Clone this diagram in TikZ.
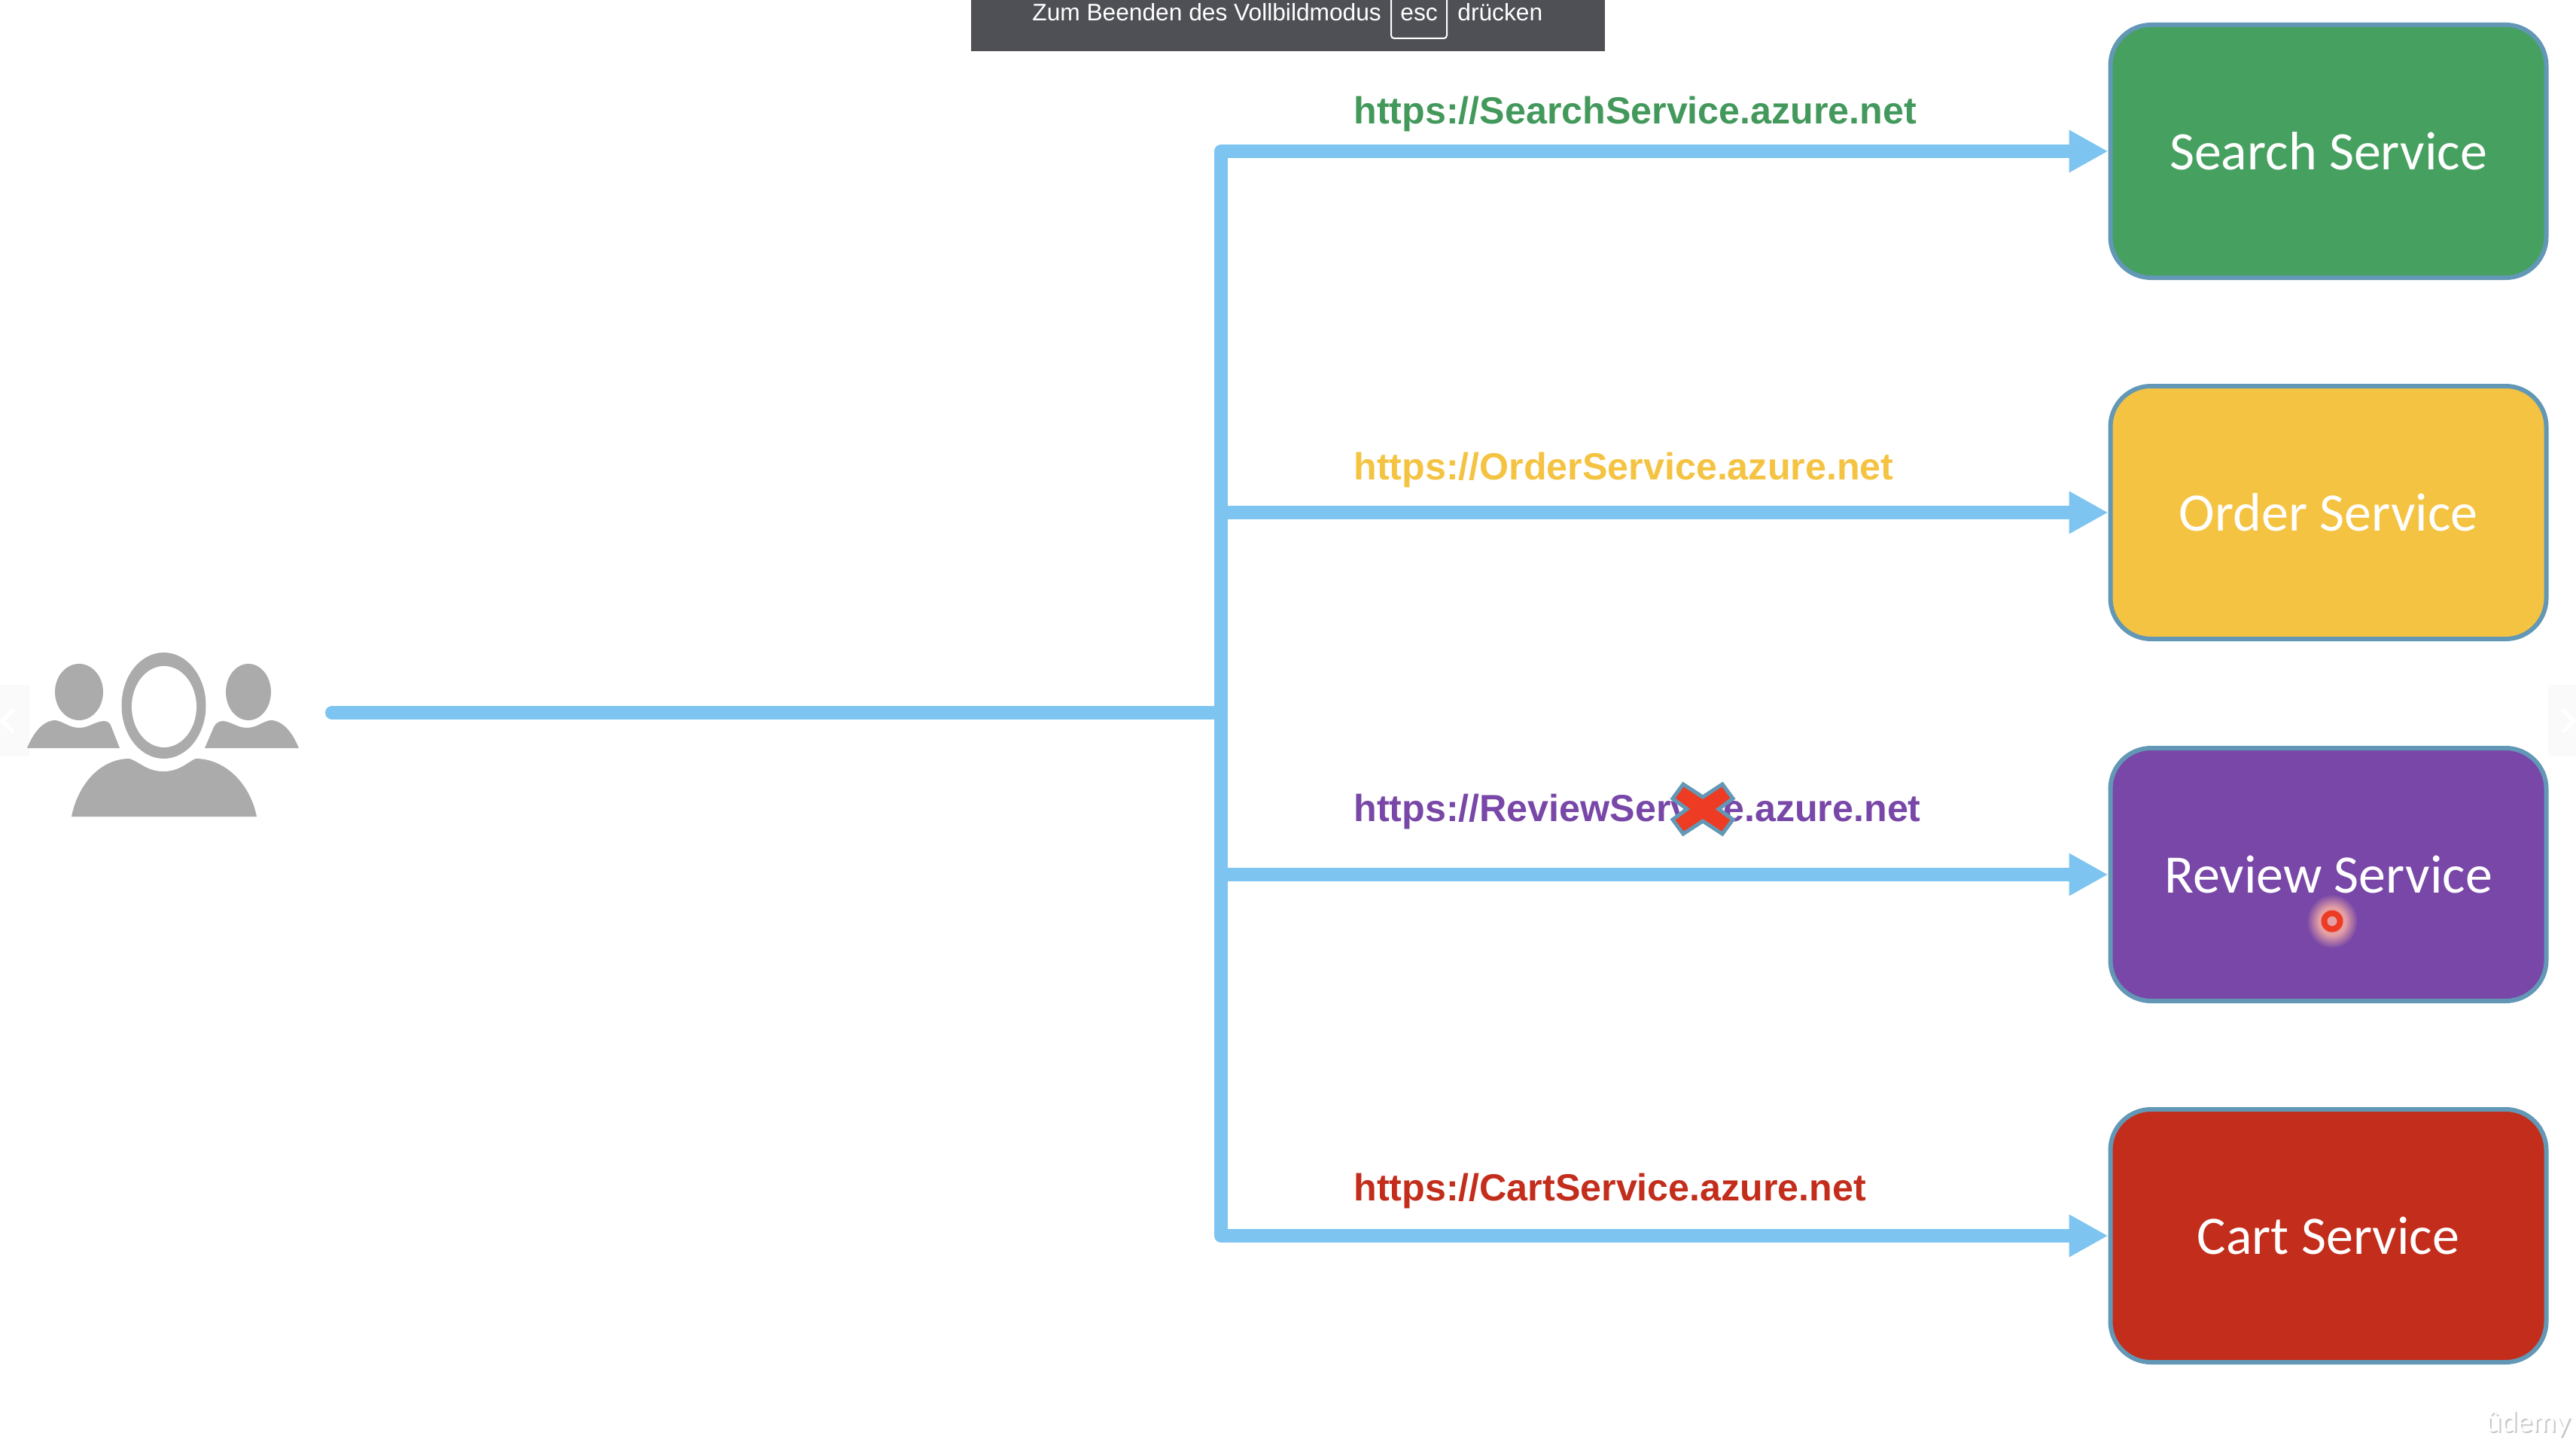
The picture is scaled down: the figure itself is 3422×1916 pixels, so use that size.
\documentclass[tikz,border=0pt]{standalone}
\usepackage{fontspec}
\setmainfont{Liberation Sans}
\newfontfamily\boxfont{Carlito}
\newfontfamily\brandfont{Lato}
\usetikzlibrary{arrows.meta, calc}

\definecolor{flowblue}{HTML}{7DC5F0}
\definecolor{edgeblue}{HTML}{6297B6}
\definecolor{searchgreen}{HTML}{46A160}
\definecolor{ordergold}{HTML}{F5C342}
\definecolor{reviewviolet}{HTML}{7847A7}
\definecolor{cartred}{HTML}{C32D1B}
\definecolor{usergrey}{HTML}{ABABAB}
\definecolor{bargrey}{HTML}{4F5056}
\definecolor{crossred}{HTML}{EE3B24}
\definecolor{navgrey}{HTML}{FAFAFA}
\definecolor{halopink}{HTML}{E4A0A4}

\pgfdeclareradialshading{click-halo}{\pgfpoint{0bp}{0bp}}{
    color(0bp)=(halopink); color(13bp)=(halopink);
    color(25bp)=(reviewviolet); color(50bp)=(reviewviolet)
}

\tikzset{
    my-flow/.style={
        draw=flowblue, line width=9pt, line join=round
    },
    my-arrow/.style={
        my-flow, -{Triangle[length=26pt, width=26.5pt]}
    },
    my-service/.style={
        draw=edgeblue, line width=3pt, rounded corners=27pt,
        minimum width=289.5pt, minimum height=168pt, text=white,
        text height=24pt, text depth=0pt, inner sep=0pt,
        font=\boxfont\fontsize{36}{40}\selectfont
    },
    my-url/.style={
        anchor=base west, inner sep=0pt,
        font=\bfseries\fontsize{25.1}{30}\selectfont
    },
    my-bar-text/.style={
        anchor=base west, inner sep=0pt, text=white,
        font=\fontsize{15.85}{18}\selectfont
    },
}

\begin{document}
\begin{tikzpicture}[x=.5pt, y=-.5pt]

        \useasboundingbox (0,0) rectangle (3422,1916);

        % FULLSCREEN BAR
        \fill[bargrey] (1290,0) rectangle (2132,68);
        \draw[white, line width=1pt, rounded corners=2pt] (1848,0) -- (1848,51) -- (1922,51) -- (1922,0);
        \node[my-bar-text] (BARTEXT) at (1371,28)   {Zum Beenden des Vollbildmodus};
        \node[my-bar-text] (ESC)     at (1860,28)   {esc};
        \node[my-bar-text] (PRESS)   at (1936,28)   {drücken};

        % SLIDE NAVIGATION
        \fill[navgrey] (0,910) rectangle (39,1005);
        \fill[navgrey] (3385,910) rectangle (3422,1005);
        \draw[white, line width=2.5pt] (18,943) -- (3,958) -- (18,973);
        \draw[white, line width=2.5pt] (3404,943) -- (3419,958) -- (3404,973);

        % USERS
        \fill[usergrey] (105,919.5) ellipse (32 and 37.5);
        \fill[usergrey] (330,919.5) ellipse (30 and 37.5);
        \fill[usergrey] (217.5,937.5) ellipse (56 and 70.5);
        \fill[white]    (218,939)   ellipse (43 and 54);
        \fill[usergrey] (36,994) .. controls (45,972) and (58,957) .. (74,957)
            .. controls (85,959) and (92,967) .. (105,967)
            .. controls (118,967) and (125,959) .. (138,958)
            .. controls (144,958) and (147,962) .. (148,966) -- (159,994) -- cycle;
        \fill[usergrey] (397,994) .. controls (388,972) and (375,957) .. (359,957)
            .. controls (348,959) and (341,967) .. (328,967)
            .. controls (315,967) and (308,959) .. (296,958)
            .. controls (290,958) and (286,962) .. (284,966) -- (272,994) -- cycle;
        \fill[usergrey] (95,1085) .. controls (104,1040) and (135,1008) .. (172,1008)
            .. controls (185,1012) and (195,1025) .. (217,1025)
            .. controls (239,1025) and (250,1012) .. (260,1008)
            .. controls (298,1008) and (332,1040) .. (341,1085) -- cycle;

        % SERVICES
        \node[my-service, fill=searchgreen]  (SEARCH) at (3093,201)  {Search Service};
        \node[my-service, fill=ordergold]    (ORDER)  at (3093,681)  {Order Service};
        \node[my-service, fill=reviewviolet] (REVIEW) at (3093,1162) {Review Service};
        \node[my-service, fill=cartred]      (CART)   at (3093,1642) {Cart Service};

        % WIRES AND CONNECTOR POINTS
        \coordinate[] (USERSOUT) at (441,947);
        \coordinate[] (TRUNK)    at (1622,947);
        \coordinate[] (TRUNKTOP) at (TRUNK |- SEARCH.west);
        \coordinate[] (TRUNKBOT) at (TRUNK |- CART.west);
        \coordinate[] (TRUNKORD) at (TRUNK |- ORDER.west);
        \coordinate[] (TRUNKREV) at (TRUNK |- REVIEW.west);

        % CONNECTIONS
        \draw[my-flow, line cap=round] (USERSOUT) -- (TRUNK);
        \draw[my-flow, {Triangle[length=26pt, width=26.5pt]}-{Triangle[length=26pt, width=26.5pt]}]
            (SEARCH.west) -- (TRUNKTOP) -- (TRUNKBOT) -- (CART.west);
        \draw[my-arrow] (TRUNKORD) -- (ORDER.west);
        \draw[my-arrow] (TRUNKREV) -- (REVIEW.west);

        % URLS
        \node[my-url, text=searchgreen!95!black] (SEARCHURL) at (1798,164)  {https://SearchService.azure.net};
        \node[my-url, text=ordergold]            (ORDERURL)  at (1798,637)  {https://OrderService.azure.net};
        \node[my-url, text=reviewviolet]         (REVIEWURL) at (1798,1091) {https://ReviewService.azure.net};
        \node[my-url, text=cartred]              (CARTURL)   at (1798,1595) {https://CartService.azure.net};

        % CROSS OVER THE REVIEW URL
        \draw[edgeblue, line width=2.5pt, fill=crossred, line join=miter, shift={(2262,1075)}]
            (-26,-33) -- (0,-16) -- (26,-33) -- (40,-14) -- (21,0) -- (40,14) -- (26,33)
            -- (0,16) -- (-26,33) -- (-40,14) -- (-21,0) -- (-40,-14) -- cycle;

        % MOUSE POINTER
        \shade[shading=click-halo] (3098,1224) ellipse (34 and 36);
        \fill[crossred] (3098,1224) circle (14.5);
        \fill[halopink] (3098,1224) circle (6.5);

        % WATERMARK
        \node[anchor=base west, inner sep=0pt, text=black!22, font=\brandfont\fontsize{19}{22}\selectfont]
            (BRANDSHADOW) at (3304,1904) {ûdemy};
        \node[anchor=base west, inner sep=0pt, text=white, font=\brandfont\fontsize{19}{22}\selectfont]
            (BRAND) at (3302,1902) {ûdemy};

    \end{tikzpicture}
\end{document}
